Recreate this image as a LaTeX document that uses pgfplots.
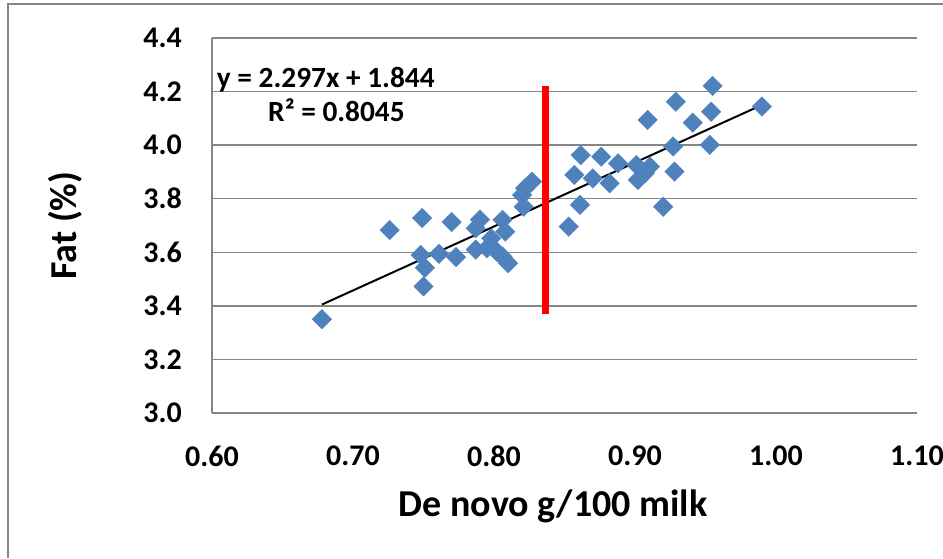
\documentclass[border=0pt]{standalone}
\usepackage{fontspec}
\setmainfont{Carlito}
\usepackage{pgfplots}
\pgfplotsset{compat=1.18}
\definecolor{ptblue}{HTML}{4F81BD}
\definecolor{gridgray}{HTML}{868686}
\begin{document}
\begin{tikzpicture}
\useasboundingbox (-159pt,-108.75pt) rectangle (548.25pt,309.75pt);
\draw[gridgray, line width=1pt] (-153pt,-108.75pt) -- (-153pt,306.75pt) -- (548.25pt,306.75pt);
\begin{axis}[
  at={(0pt,0pt)}, anchor=south west,
  scale only axis, width=528.75pt, height=281.25pt,
  xmin=0.6, xmax=1.1, ymin=3.0, ymax=4.4,
  xtick={0.6,0.7,...,1.1}, ytick={3.0,3.2,...,4.4},
  axis lines*=left,
  axis line style={gridgray, line width=1pt},
  ymajorgrids, grid style={gridgray, line width=1pt},
  major tick length=0pt,
  /pgf/number format/assume math mode=true,
  xticklabel={\pgfmathprintnumber[fixed,fixed zerofill,precision=2]{\tick}},
  yticklabel={\pgfmathprintnumber[fixed,fixed zerofill,precision=1]{\tick}},
  ticklabel style={font=\fontsize{22.5}{25}\selectfont\bfseries},
  xticklabel style={anchor=north, inner sep=0pt, yshift=-24.75pt},
  yticklabel style={anchor=east, inner sep=0pt, xshift=-22.5pt},
  xlabel={De novo g/100 milk},
  ylabel={Fat (\%)},
  label style={font=\fontsize{28.5}{31}\selectfont\bfseries, inner sep=0pt},
  xlabel style={at={(axis description cs:0.4837,-0.2747)}, anchor=base},
  ylabel style={at={(axis description cs:-0.1919,0.5)}, anchor=base},
  clip=false,
]
\addplot[only marks, mark=square*, mark size=5.2pt,
  mark options={rotate=45, fill=ptblue, draw=ptblue, line width=0.2pt}]
  coordinates {
  (0.678,3.350) (0.726,3.683) (0.749,3.728) (0.748,3.590) (0.751,3.542)
  (0.750,3.473) (0.761,3.594) (0.770,3.713) (0.773,3.582) (0.787,3.610)
  (0.790,3.722) (0.787,3.690) (0.795,3.615) (0.798,3.652) (0.802,3.602)
  (0.806,3.721) (0.806,3.584) (0.808,3.677) (0.810,3.559) (0.821,3.770)
  (0.820,3.814) (0.822,3.839) (0.827,3.864) (0.853,3.696) (0.861,3.777)
  (0.857,3.889) (0.8615,3.963) (0.870,3.876) (0.876,3.957) (0.882,3.858)
  (0.888,3.932) (0.901,3.926) (0.902,3.870) (0.907,3.895) (0.9106,3.920)
  (0.909,4.094) (0.920,3.770) (0.927,3.995) (0.928,3.901) (0.929,4.162)
  (0.941,4.084) (0.953,4.001) (0.954,4.125) (0.955,4.221) (0.990,4.144)
  };
\addplot[black, line width=1.5pt] coordinates {(0.678,3.405) (0.990,4.150)};
\addplot[red, line width=5.25pt] coordinates {(0.8367,3.368) (0.8367,4.222)};
\node[anchor=base west, inner sep=0pt, font=\fontsize{22}{24}\selectfont\bfseries]
  at (axis description cs:0.0066,0.8693) {y = 2.297x + 1.844};
\node[anchor=base west, inner sep=0pt, font=\fontsize{22}{24}\selectfont\bfseries]
  at (axis description cs:0.0794,0.7769) {R² = 0.8045};
\end{axis}
\end{tikzpicture}
\end{document}
